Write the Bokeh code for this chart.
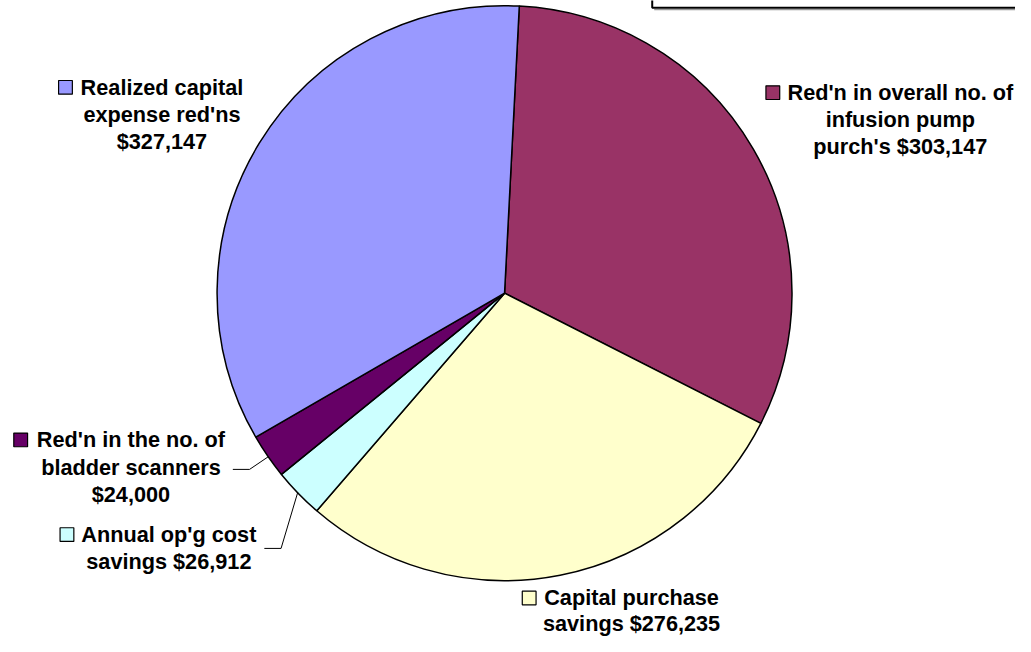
import numpy as np
from bokeh.plotting import figure
from bokeh.models import Range1d, ColumnDataSource
from bokeh.core.properties import value
from bokeh.embed import file_html
from bokeh.resources import INLINE

# ---- data ----
labels = [
    "Red'n in overall no. of\ninfusion pump\npurch's $303,147",
    "Capital purchase\nsavings $276,235",
    "Annual op'g cost\nsavings $26,912",
    "Red'n in the no. of\nbladder scanners\n$24,000",
    "Realized capital\nexpense red'ns\n$327,147",
]
values = [303147, 276235, 26912, 24000, 327147]
colors = ["#993366", "#FFFFCC", "#CCFFFF", "#660066", "#9999FF"]

# ---- layout (reference pixel coordinates) ----
W, H = 1015, 636
IMG_W, IMG_H = 1031, 652


def Y(py):
    return IMG_H - py


CX, CY, R = 512, 300, 292
FIRST_OFFSET_DEG = 2.94  # first slice starts slightly clockwise of 12 o'clock

# label placement: (center x, first baseline y, key square center x, line step)
label_pos = [
    (914, 102, 784.5, 27.8),
    (641, 620, 537, 26.0),
    (171, 555, 67.5, 27.8),
    (132.5, 458, 20.5, 28.2),
    (164, 96.5, 66, 27.8),
]
TEXT_DY = -7.5   # compensates renderer baseline placement
FONT = value("Liberation Sans")

p = figure(width=W, height=H,
           x_range=Range1d(0, IMG_W), y_range=Range1d(0, IMG_H),
           output_backend="svg", toolbar_location=None, min_border=0)
p.axis.visible = False
p.grid.visible = False
p.outline_line_color = None
p.background_fill_color = "white"
p.border_fill_color = "white"

vals = np.array(values, dtype=float)
frac = vals / vals.sum()
cum = np.concatenate([[0], np.cumsum(frac)[:-1]])
start = np.deg2rad(90 - FIRST_OFFSET_DEG - cum * 360)
end = np.deg2rad(90 - FIRST_OFFSET_DEG - (cum + frac) * 360)

src = ColumnDataSource(dict(start=start, end=end, color=colors))
p.wedge(x=CX, y=Y(CY), radius=R, start_angle="start", end_angle="end",
        direction="clock", fill_color="color", line_color="black",
        line_width=1.5, source=src)

# leader lines
p.multi_line(xs=[[236, 253, 272], [268, 285, 302]],
             ys=[[Y(480.7), Y(480.7), Y(467.7)], [Y(561.7), Y(561.7), Y(504)]],
             line_color="black", line_width=1)

# labels
tx, ty, tt = [], [], []
sx, sy, sc = [], [], []
for lab, (lx, ly, kx, step), col in zip(labels, label_pos, colors):
    for i, line in enumerate(lab.split("\n")):
        tx.append(lx)
        ty.append(Y(ly + i * step + TEXT_DY))
        tt.append(line)
    sx.append(kx)
    sy.append(Y(ly - 7.5))
    sc.append(col)

p.text(x=tx, y=ty, text=tt, text_align="center", text_baseline="alphabetic",
       text_font=FONT, text_font_style="bold", text_font_size="21.7px",
       text_color="black")
p.rect(x=sx, y=sy, width=14, height=14, fill_color=sc, line_color="black",
       line_width=1.2)

# partial box at top right (title/legend box frame)
p.line([662, 662, 1100], [Y(-20), Y(7.5), Y(7.5)], line_color="black", line_width=2)
p.line([664, 1100], [Y(9.3), Y(9.3)], line_color="#999999", line_width=1.2)

open("out.html", "w").write(file_html(p, INLINE))
